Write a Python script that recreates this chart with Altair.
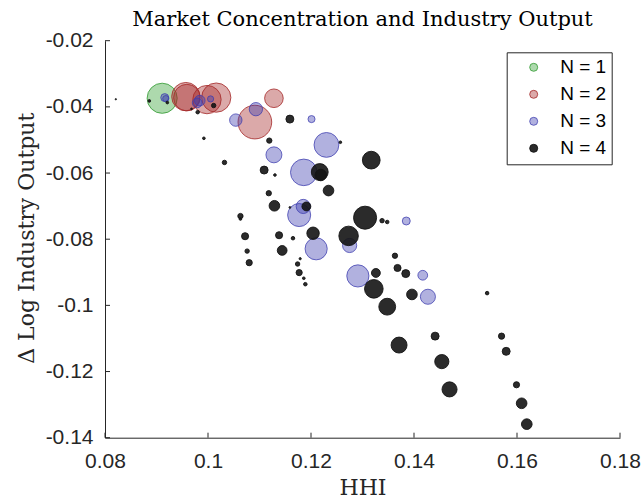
import altair as alt
import pandas as pd

# Industry-level observations: concentration (HHI), change in log output,
# bubble weight and number of firms in the market.
hhi = [
    0.0911,
    0.0957, 0.0959, 0.0998, 0.1016, 0.1128, 0.1091,
    0.0916, 0.0918, 0.0984, 0.0979, 0.1005, 0.1093, 0.1054, 0.1201, 0.1230,
    0.1128, 0.1186, 0.1185, 0.1177, 0.1385, 0.1210, 0.1275, 0.1291, 0.1417, 0.1427,
    0.0821, 0.0886, 0.0921, 0.0968, 0.0980, 0.1011, 0.0992, 0.1159, 0.1119, 0.1257,
    0.1032, 0.1317, 0.1109, 0.1130, 0.1217, 0.1219, 0.1234, 0.1118, 0.1129, 0.1191,
    0.1159, 0.1063, 0.1063, 0.1305, 0.1338, 0.1348, 0.1072, 0.1138, 0.1165, 0.1204,
    0.1273, 0.1076, 0.1144, 0.1080, 0.1179, 0.1174, 0.1177, 0.1186, 0.1189, 0.1363,
    0.1368, 0.1384, 0.1326, 0.1322, 0.1396, 0.1348, 0.1542, 0.1371, 0.1441, 0.1454,
    0.1469, 0.1570, 0.1579, 0.1599, 0.1609, 0.1619,
]
dlog = [
    -0.0374,
    -0.0369, -0.0372, -0.0378, -0.0372, -0.0374, -0.0446,
    -0.0372, -0.0375, -0.0381, -0.0388, -0.0376, -0.0407, -0.0440, -0.0437, -0.0515,
    -0.0545, -0.0598, -0.0701, -0.0727, -0.0745, -0.0829, -0.0819, -0.0911, -0.0909, -0.0974,
    -0.0377, -0.0382, -0.0387, -0.0406, -0.0416, -0.0396, -0.0495, -0.0437, -0.0502, -0.0507,
    -0.0568, -0.0561, -0.0591, -0.0606, -0.0597, -0.0606, -0.0653, -0.0661, -0.0699, -0.0701,
    -0.0704, -0.0730, -0.0739, -0.0735, -0.0744, -0.0748, -0.0791, -0.0788, -0.0797, -0.0782,
    -0.0790, -0.0836, -0.0834, -0.0871, -0.0859, -0.0875, -0.0901, -0.0918, -0.0936, -0.0850,
    -0.0887, -0.0904, -0.0902, -0.0950, -0.0967, -0.1004, -0.0963, -0.1120, -0.1093, -0.1170,
    -0.1254, -0.1093, -0.1139, -0.1240, -0.1296, -0.1359,
]
weight = [
    34,
    32, 30, 32, 33, 21, 38,
    9, 7, 12, 11, 7, 15, 14, 8, 28,
    18, 30, 16, 26, 9, 25, 16, 25, 11, 17,
    1.5, 3, 3, 2, 4, 5, 3, 9, 6, 3,
    5, 20, 9, 3, 19, 13, 12, 6, 12, 10,
    2, 6, 3, 26, 5, 4, 8, 8, 4, 14,
    22, 5, 11, 7, 2.5, 5, 7, 3, 4, 6,
    8, 9, 10, 21, 12, 19, 4, 18, 9, 16,
    17, 7, 9, 7, 12, 12,
]
firms = [1] + [2] * 6 + [3] * 19 + [4] * 56

groups = ["N = 1", "N = 2", "N = 3", "N = 4"]
fills = ["rgba(50,160,50,0.4)", "rgba(165,40,40,0.4)",
         "rgba(60,60,175,0.4)", "rgba(20,20,20,0.9)"]
strokes = ["rgba(40,150,40,0.75)", "rgba(165,40,40,0.8)",
           "rgba(60,60,175,0.75)", "rgba(20,20,20,0.9)"]

x_ticks = [0.08, 0.10, 0.12, 0.14, 0.16, 0.18]
y_ticks = [-0.14, -0.12, -0.10, -0.08, -0.06, -0.04, -0.02]

W, H = 515, 397
INK = "#262626"

df = pd.DataFrame({"HHI": hhi, "dlog": dlog, "weight": weight, "N": firms})
df["group"] = "N = " + df["N"].astype(str)
df = df.sort_values("N", kind="stable").reset_index(drop=True)
df["order"] = range(len(df))

x_scale = alt.Scale(domain=[0.08, 0.18], nice=False, zero=False)
y_scale = alt.Scale(domain=[-0.14, -0.02], nice=False, zero=False)
label_expr = "replace(format(datum.value, '.2~f'), '\u2212', '-')"

legend = alt.Legend(
    orient="none", legendX=401.7, legendY=11.6, title=None,
    padding=5.5, strokeColor=INK, fillColor="white",
    symbolType="circle", symbolSize=64, symbolStrokeWidth=1,
    symbolOffset=12, labelOffset=17, rowPadding=7,
    labelFont="Liberation Sans", labelFontSize=19, labelColor="black",
)

points = alt.Chart(df).mark_circle(opacity=1, strokeWidth=1).encode(
    x=alt.X("HHI:Q", scale=x_scale, axis=alt.Axis(
        values=x_ticks, labelExpr=label_expr, title="HHI", labelFlush=False,
        labelPadding=13, titleX=W / 2, titleY=57, titleBaseline="alphabetic",
    )),
    y=alt.Y("dlog:Q", scale=y_scale, axis=alt.Axis(
        values=y_ticks, labelExpr=label_expr, title="\u0394 Log Industry Output",
        labelFlush=False, labelPadding=12, titleX=-72, titleY=197,
        titleBaseline="alphabetic", titleAngle=270,
    )),
    fill=alt.Fill("group:N", scale=alt.Scale(domain=groups, range=fills), legend=legend),
    stroke=alt.Stroke("group:N", scale=alt.Scale(domain=groups, range=strokes), legend=legend),
    size=alt.Size("weight:Q", scale=alt.Scale(type="pow", exponent=2, domain=[0, 40],
                                              range=[0, 1257]), legend=None),
    order=alt.Order("order:Q"),
)

# inward-pointing tick marks on both axes
xt = alt.Chart(pd.DataFrame({"HHI": x_ticks})).mark_rule(color=INK, strokeWidth=1).encode(
    x="HHI:Q", y=alt.value(H), y2=alt.value(H - 5))
yt = alt.Chart(pd.DataFrame({"dlog": y_ticks})).mark_rule(color=INK, strokeWidth=1).encode(
    y="dlog:Q", x=alt.value(0), x2=alt.value(5))

chart = alt.layer(points, xt, yt).properties(
    width=W, height=H,
    title=alt.TitleParams(
        "Market Concentration and Industry Output", font="DejaVu Serif",
        fontSize=21, fontWeight="normal", color="black", anchor="middle",
        baseline="alphabetic", offset=12, dy=29,
    ),
    autosize=alt.AutoSizeParams(type="none"),
    padding={"left": 105, "top": 40.7, "right": 21, "bottom": 64.3},
).configure_view(stroke=None).configure_axis(
    grid=False, domainColor=INK, domainWidth=1, tickSize=0,
    labelFont="Liberation Sans", labelFontSize=21, labelColor=INK,
    titleFont="DejaVu Serif", titleFontSize=22, titleFontWeight="normal", titleColor=INK,
)

chart.save("out.html", embed_options={"renderer": "svg", "actions": False})
